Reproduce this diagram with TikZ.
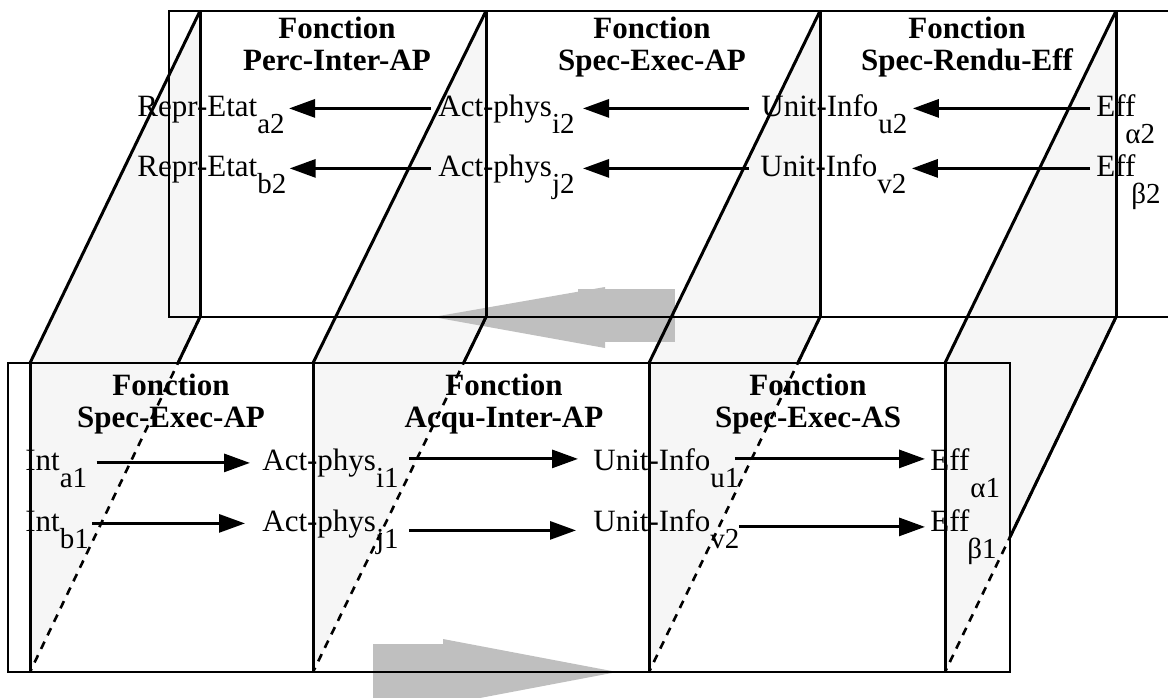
\documentclass[tikz,border=0pt]{standalone}
\usepackage{fontspec}
\setmainfont{Liberation Serif}
\usetikzlibrary{arrows.meta,calc}

\definecolor{sideface}{gray}{0.965}
\definecolor{flowgray}{gray}{0.75}
\newcommand{\sub}[1]{\smash{\raisebox{-8.5pt}{\fontsize{14.5}{14.5}\selectfont #1}}}
\newcommand{\gsub}[2][-1pt]{\kern#1\smash{\raisebox{-13.5pt}{\fontsize{14.5}{14.5}\selectfont #2}}}

\begin{document}
\begin{tikzpicture}[x=0.5pt,y=-0.5pt,
  lbl/.style={inner sep=0pt, anchor=base west, font=\fontsize{15.5}{18}\selectfont, text height=10.2pt, text depth=2.6pt},
  ttl/.style={inner sep=0pt, anchor=base, font=\fontsize{15.5}{18}\selectfont\bfseries},
  flow/.style={-{Triangle[length=13pt,width=9pt]}, line width=1.5pt},
  boxline/.style={line width=1.3pt},
  seam/.style={line width=1.5pt},
  hiddenline/.style={line width=1.3pt, dash pattern=on 4pt off 3.5pt}]
  \useasboundingbox (0,0) rectangle (1168,697);
  \clip (0,0) rectangle (1168,697);

  % side faces
  \foreach \xt/\xb in {200/30,486/313,820/649,1116/945}
    \fill[sideface] (\xt,11) -- (\xt,317) -- (\xb,672) -- (\xb,363) -- cycle;

  % big grey arrows
  \fill[flowgray] (578,289) rectangle (675,342);
  \fill[flowgray] (605,287) -- (433,317) -- (605,348) -- cycle;
  \fill[flowgray] (373,644) rectangle (470,700);
  \fill[flowgray] (443,639) -- (617,672) -- (443,705) -- cycle;

  % frames
  \draw[boxline] (169,11) rectangle (1180,317);
  \draw[boxline] (8,363) rectangle (1010,672);
  \foreach \xt/\xb/\f in {200/30/0.13,486/313/0.13,820/649/0.13,1116/945/0.62}{
    \draw[seam] (\xt,11) -- (\xt,317);
    \draw[seam] (\xb,363) -- (\xb,672);
    \draw[seam] (\xt,11) -- (\xb,363);
    \draw[hiddenline] (\xt,317) -- (\xb,672);
    \draw[seam] (\xt,317) -- ($(\xt,317)!\f!(\xb,672)$);
  }

  % titles, upper level
  \node[ttl] (tPIa) at (337,38) {Fonction};
  \node[ttl] (tPIb) at (337,70) {Perc-Inter-AP};
  \node[ttl] (tSEa) at (652,38) {Fonction};
  \node[ttl] (tSEb) at (652,70) {Spec-Exec-AP};
  \node[ttl] (tSRa) at (967,38) {Fonction};
  \node[ttl] (tSRb) at (967,70) {Spec-Rendu-Eff};
  % titles, lower level
  \node[ttl] (bSEa) at (171,395) {Fonction};
  \node[ttl] (bSEb) at (171,427) {Spec-Exec-AP};
  \node[ttl] (bAIa) at (504,395) {Fonction};
  \node[ttl] (bAIb) at (504,427) {Acqu-Inter-AP};
  \node[ttl] (bSSa) at (808,395) {Fonction};
  \node[ttl] (bSSb) at (808,427) {Spec-Exec-AS};

  % upper level labels
  \node[lbl] (ra2) at (137,116) {Repr-Etat\sub{a2}};
  \node[lbl] (ai2) at (438,116) {Act-phys\sub{i2}};
  \node[lbl] (uu2) at (761,116) {Unit-Info\sub{u2}};
  \node[lbl] (ea2) at (1096,116) {Eff\gsub[-5pt]{α2}};
  \node[lbl] (rb2) at (137,176) {Repr-Etat\sub{b2}};
  \node[lbl] (aj2) at (438,176) {Act-phys\sub{j2}};
  \node[lbl] (uv2) at (760,176) {Unit-Info\sub{v2}};
  \node[lbl] (eb2) at (1096,176) {Eff\gsub[-2pt]{β2}};

  % lower level labels
  \node[lbl] (ia1) at (25,470.5) {Int\sub{a1}};
  \node[lbl] (ai1) at (262,470.5) {Act-phys\sub{i1}};
  \node[lbl] (uu1) at (593,470.5) {Unit-Info\sub{u1}};
  \node[lbl] (ea1) at (930,470.5) {Eff\gsub[0.5pt]{α1}};
  \node[lbl] (ib1) at (25,531) {Int\sub{b1}};
  \node[lbl] (aj1) at (262,531) {Act-phys\sub{j1}};
  \node[lbl] (uv1) at (593,531) {Unit-Info\sub{v2}};
  \node[lbl] (eb1) at (930,531) {Eff\gsub[-1pt]{β1}};

  % upper flows (right to left)
  \draw[flow, shorten <=3pt, shorten >=2.5pt] (ea2.west) -- (uu2.east);
  \draw[flow, shorten <=6pt, shorten >=4pt] (uu2.west) -- (ai2.east);
  \draw[flow, shorten <=3.5pt, shorten >=2pt] (ai2.west) -- (ra2.east);
  \draw[flow, shorten <=3pt, shorten >=2.5pt] (eb2.west) -- (uv2.east);
  \draw[flow, shorten <=5.5pt, shorten >=4pt] (uv2.west) -- (aj2.east);
  \draw[flow, shorten <=3.5pt, shorten >=1.5pt] (aj2.west) -- (rb2.east);

  % lower flows (left to right)
  \draw[flow, shorten <=4.5pt, shorten >=6pt] (ia1.east) -- (ai1.west);
  \draw[flow, shorten <=5pt, shorten >=7.5pt] ([yshift=2pt]ai1.east) -- ([yshift=2pt]uu1.west);
  \draw[flow, shorten <=-2.5pt, shorten >=2.5pt] ([yshift=2pt]uu1.east) -- ([yshift=2pt]ea1.west);
  \draw[flow, shorten <=1.5pt, shorten >=8.5pt] (ib1.east) -- (aj1.west);
  \draw[flow, shorten <=5pt, shorten >=8.5pt] ([yshift=-3.5pt]aj1.east) -- ([yshift=-3.5pt]uv1.west);
  \draw[flow, shorten <=-0.5pt, shorten >=2.5pt] ([yshift=-1.75pt]uv1.east) -- ([yshift=-1.75pt]eb1.west);
\end{tikzpicture}
\end{document}
